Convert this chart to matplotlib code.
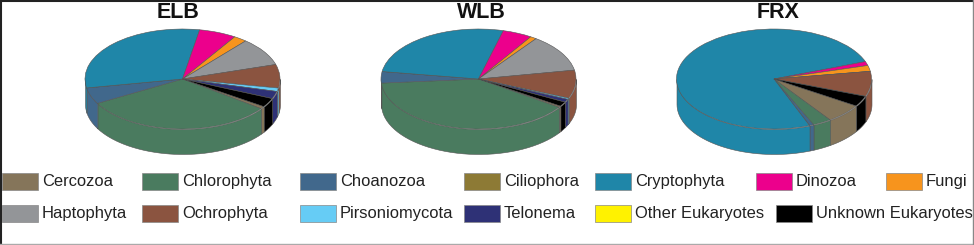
import matplotlib
matplotlib.use('Agg')
import matplotlib.pyplot as plt
from matplotlib.patches import Rectangle
import numpy as np

plt.rcParams['font.family'] = ['Liberation Sans', 'DejaVu Sans']

W, H = 974, 245

# clockwise order, same as the legend
categories = ['Cercozoa', 'Chlorophyta', 'Choanozoa', 'Ciliophora', 'Cryptophyta', 'Dinozoa', 'Fungi',
              'Haptophyta', 'Ochrophyta', 'Pirsoniomycota', 'Telonema', 'Other Eukaryotes', 'Unknown Eukaryotes']
colors = ['#85755a', '#4a7b5f', '#41688c', '#8d7a35', '#1f86a8', '#ec008c', '#f7941d',
          '#939598', '#8b5440', '#66ccf5', '#2e3176', '#fff200', '#000000']

elb = [0.8, 31.8, 5.25, 0, 30.7, 6.2, 2.2, 9.1, 7.6, 1.1, 2.4, 0, 2.9]
wlb = [0.47, 39.1, 3.7, 0, 26.7, 4.9, 1.05, 12.1, 9.1, 0.4, 1.0, 0, 1.45]
frx = [6.2, 3.1, 0.7, 0, 75.2, 1.3, 1.9, 0, 8.1, 0, 0, 0, 3.4]

# legend layout in pixels
legend_x = [2, 142, 300, 464, 595, 756, 886, 2, 142, 300, 464, 595, 776]
legend_y = [181] * 7 + [213] * 6


def draw_pie(fig, values, title, cx, title_x, start):
    a, b, depth = 97.5, 50, 25
    top = 79 - b
    ax = fig.add_axes([(cx - a) / W, 1 - (top + 2 * b + depth) / H, 2 * a / W, (2 * b + depth) / H])
    wedges, _ = ax.pie(values, colors=colors, startangle=start, counterclock=False, radius=1,
                       wedgeprops={'edgecolor': '#555555', 'linewidth': 0.4})
    ax.set_aspect('auto')
    ax.set_xlim(-1, 1)
    ax.set_ylim(-1 - depth / b, 1)
    for w in wedges:
        lo = w.theta1 % 360
        hi = lo + (w.theta2 - w.theta1)
        for s, e in [(180, 360), (540, 720)]:
            t0, t1 = max(lo, s), min(hi, e)
            if t1 <= t0:
                continue
            t = np.radians(np.linspace(t0, t1, 40))
            ax.fill_between(np.cos(t), np.sin(t), np.sin(t) - depth / b, color=w.get_facecolor(),
                            edgecolor='#555555', linewidth=0.4, clip_on=False, zorder=0.5)
    fig.text(title_x / W, 1 - 13 / H, title, ha='center', va='center', fontsize=15.5, fontweight='bold', color='#111111')


fig = plt.figure(figsize=(W / 100, H / 100), dpi=100)

draw_pie(fig, elb, 'ELB', 182.5, 178.5, -33.5)
draw_pie(fig, wlb, 'WLB', 478.5, 481, -32.8)
draw_pie(fig, frx, 'FRX', 774, 778, -32.6)

leg = fig.add_axes([0, 0, 1, 1])
leg.set_xlim(0, W)
leg.set_ylim(H, 0)
leg.axis('off')
leg.patch.set_alpha(0)
for name, c, x, y in zip(categories, colors, legend_x, legend_y):
    leg.add_patch(Rectangle((x, y - 8.5), 36, 17, facecolor=c, edgecolor='#888888', linewidth=0.5))
    leg.text(x + 40, y, name, ha='left', va='center', fontsize=11.9, color='#222222')

# image border
leg.plot([0, W], [1.2, 1.2], color='#222222', lw=1.5)
leg.plot([0.8, 0.8], [0, H], color='#222222', lw=1.5)
leg.plot([0, W], [244, 244], color='#aaaaaa', lw=1)
leg.plot([973, 973], [0, H], color='#888888', lw=1)

fig.savefig('out.png', dpi=100)
